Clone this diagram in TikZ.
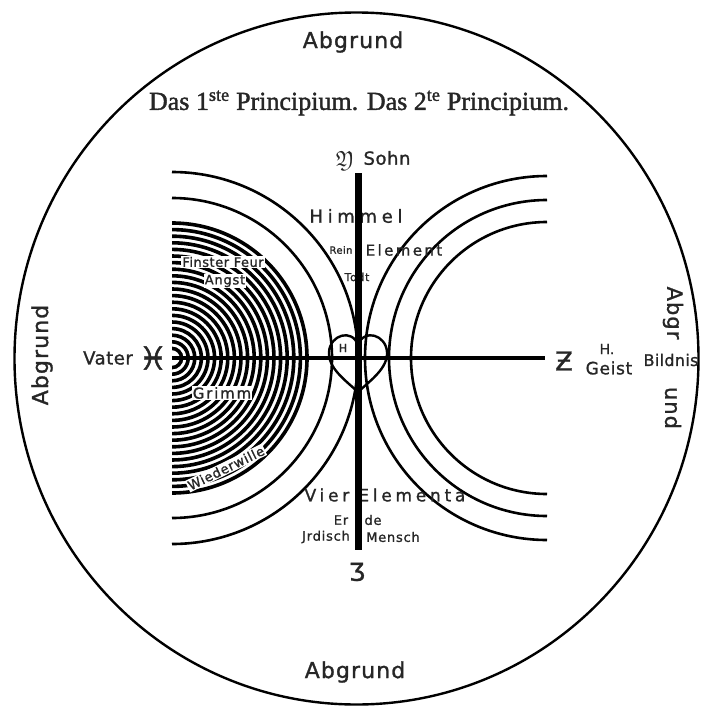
\documentclass[tikz,border=0pt]{standalone}
\usepackage{fontspec}
\usepackage{amssymb}
\newfontfamily\hand{DejaVu Sans}[FakeBold=1.2]
\newfontfamily\titlefont{Liberation Serif}[FakeBold=1.5]
\newcommand\hsz[2]{\hand\addfontfeature{LetterSpace=#2}\fontsize{#1}{#1}\selectfont}
\begin{document}
\begin{tikzpicture}[x=1pt,y=-1pt,
  ln/.style={line width=2.6pt},
  lbl/.style={inner sep=0.5pt, text=black!85},
  wbox/.style={fill=white, inner sep=1.2pt, text=black!85}]
\useasboundingbox (0,0) rectangle (703,709);
\fill[white] (0,0) rectangle (703,709);

% outer circle
\draw[line width=2.4pt] (356.5,358.5) ellipse[x radius=342, y radius=346];

% key points
\coordinate (L) at (172,358);
\coordinate (R) at (547,358);
\coordinate (top) at (358,173);
\coordinate (bot) at (358,550);
\coordinate (west) at (172,358);
\coordinate (east) at (545,358);

% concentric rings (left)
\begin{scope}
  \clip (172,210) rectangle (320,506);
  \foreach \k in {0,...,19} \draw[line width=3.6pt] (L) circle[radius={135-6.6*\k}];
\end{scope}

% left arcs
\draw[ln] (L) ++(-90:160) arc[start angle=-90, end angle=90, radius=160];
\draw[ln] (L) ++(-90:186) arc[start angle=-90, end angle=90, radius=186];
% right arcs
\foreach \r in {136,158,182}
  \draw[ln] (R) ++(90:\r) arc[start angle=90, end angle=270, radius=\r];

% heart
\draw[line width=2.4pt] (358,392) .. controls (345,380) and (328,368) .. (329,352)
  .. controls (330,335) and (352,328) .. (358,345)
  .. controls (364,328) and (386,335) .. (387,352)
  .. controls (388,368) and (371,380) .. (358,392);
\node[lbl, font=\hsz{11}{0}] (h) at (343,348) {H};

% labels in the rings
\node[wbox, font=\hsz{13}{4}] (finster) at (223,262) {Finster Feur};
\node[wbox, font=\hsz{13}{6}] (angst) at (225,281) {Angst};
\node[wbox, font=\hsz{15}{12}] (grimm) at (222,393) {Grimm};
\node[wbox, font=\hsz{13}{6}, rotate=26] (wieder) at (226,468) {Wiederwille};

% central labels
\node[lbl, font=\hsz{18}{26}] (himmel) at (356,216) {Himmel};
\node[lbl, font=\hsz{10}{4}] (rein) at (341,250) {Rein};
\node[lbl, font=\hsz{15}{16}] (element) at (404,250) {Element};
\node[lbl, font=\hsz{11}{6}] (todt) at (357,277) {Todt};
\node[lbl, font=\hsz{17}{22}] (vier) at (385,495) {Vier Elementa};
\node[lbl, font=\hsz{13}{6}] (er) at (341,520) {Er};
\node[lbl, font=\hsz{13}{6}] (de) at (373,520) {de};
\node[lbl, font=\hsz{13}{6}] (jrd) at (326,537) {Jrdisch};
\node[lbl, font=\hsz{13}{6}] (mensch) at (393,537) {Mensch};

% axes
\draw[line width=4pt] (west) -- (east);
\draw[line width=7pt, line cap=butt] (top) -- (bot);

% axis end labels
\node[lbl, font=\hsz{22}{0}] (ysym) at (345,161) {$\mathfrak{Y}$};
\node[lbl, font=\hsz{18}{3}] (sohn) at (387,158) {Sohn};
\node[lbl, font=\hsz{18}{3}] (vater) at (108,358) {Vater};
\node[lbl, font=\hsz{32}{0}] (pisces) at (153,358) {♓};
\node[lbl, font=\hsz{26}{0}] (zsym) at (564,361) {Ƶ};
\node[lbl, font=\hsz{14}{0}] (hp) at (607,349) {H.};
\node[lbl, font=\hsz{17}{4}] (geist) at (609,368) {Geist};
\node[lbl, font=\hsz{16}{2}] (bildnis) at (671,360) {Bildnis};
\node[lbl, font=\hsz{24}{0}] (fsym) at (357,572) {Ӡ};

% Abgrund labels
\node[lbl, font=\hsz{22}{5}] (abgtop) at (353,42) {Abgrund};
\node[lbl, font=\hsz{22}{5}] (abgbot) at (355,672) {Abgrund};
\node[lbl, font=\hsz{22}{5}, rotate=90] (abgleft) at (42,355) {Abgrund};
\node[lbl, font=\hsz{21}{5}, rotate=-90] (abgr) at (673,313) {Abgr};
\node[lbl, font=\hsz{21}{5}, rotate=-90] (und) at (673,408) {und};

% title
\node[lbl, font=\titlefont\fontsize{26}{26}\selectfont] (title) at (359,103)
  {Das 1\textsuperscript{ste} Principium. Das 2\textsuperscript{te} Principium.};
\end{tikzpicture}
\end{document}
